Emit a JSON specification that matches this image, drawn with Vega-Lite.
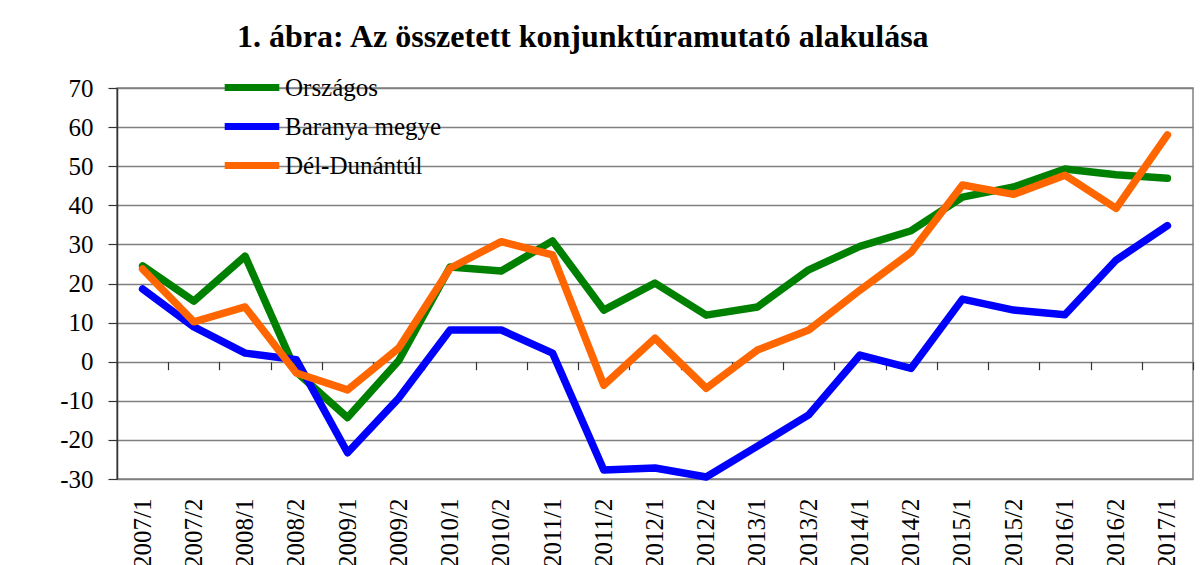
{
  "$schema": "https://vega.github.io/schema/vega-lite/v6.json",
  "width": 1076,
  "height": 391,
  "autosize": {"type": "none"},
  "padding": {"left": 117, "top": 88, "right": 11, "bottom": 86},
  "background": "white",
  "title": {
    "text": "1. ábra: Az összetett konjunktúramutató alakulása",
    "font": "Liberation Serif",
    "fontSize": 32,
    "fontWeight": "bold",
    "color": "black",
    "anchor": "start",
    "frame": "group",
    "dx": 120,
    "offset": 11
  },
  "config": {
    "view": {"stroke": "#808080", "strokeWidth": 1.5},
    "font": "Liberation Serif",
    "axis": {"labelFont": "Liberation Serif"},
    "legend": {"labelFont": "Liberation Serif"}
  },
  "data": {
    "values": [
      {"period": "2007/1", "series": "Országos", "value": 24.5},
      {"period": "2007/2", "series": "Országos", "value": 15.5},
      {"period": "2008/1", "series": "Országos", "value": 27},
      {"period": "2008/2", "series": "Országos", "value": -2.6},
      {"period": "2009/1", "series": "Országos", "value": -14.3},
      {"period": "2009/2", "series": "Országos", "value": 0.3},
      {"period": "2010/1", "series": "Országos", "value": 24.2},
      {"period": "2010/2", "series": "Országos", "value": 23.2},
      {"period": "2011/1", "series": "Országos", "value": 30.9},
      {"period": "2011/2", "series": "Országos", "value": 13.2},
      {"period": "2012/1", "series": "Országos", "value": 20.1},
      {"period": "2012/2", "series": "Országos", "value": 11.9},
      {"period": "2013/1", "series": "Országos", "value": 14},
      {"period": "2013/2", "series": "Országos", "value": 23.5},
      {"period": "2014/1", "series": "Országos", "value": 29.5},
      {"period": "2014/2", "series": "Országos", "value": 33.5},
      {"period": "2015/1", "series": "Országos", "value": 42.1},
      {"period": "2015/2", "series": "Országos", "value": 44.7},
      {"period": "2016/1", "series": "Országos", "value": 49.3},
      {"period": "2016/2", "series": "Országos", "value": 47.8},
      {"period": "2017/1", "series": "Országos", "value": 46.9},
      {"period": "2007/1", "series": "Baranya megye", "value": 18.6},
      {"period": "2007/2", "series": "Baranya megye", "value": 8.9},
      {"period": "2008/1", "series": "Baranya megye", "value": 2.2},
      {"period": "2008/2", "series": "Baranya megye", "value": 0.5},
      {"period": "2009/1", "series": "Baranya megye", "value": -23.3},
      {"period": "2009/2", "series": "Baranya megye", "value": -9.3},
      {"period": "2010/1", "series": "Baranya megye", "value": 8.1},
      {"period": "2010/2", "series": "Baranya megye", "value": 8.1},
      {"period": "2011/1", "series": "Baranya megye", "value": 2.2},
      {"period": "2011/2", "series": "Baranya megye", "value": -27.7},
      {"period": "2012/1", "series": "Baranya megye", "value": -27.2},
      {"period": "2012/2", "series": "Baranya megye", "value": -29.5},
      {"period": "2013/1", "series": "Baranya megye", "value": -21.6},
      {"period": "2013/2", "series": "Baranya megye", "value": -13.6},
      {"period": "2014/1", "series": "Baranya megye", "value": 1.7},
      {"period": "2014/2", "series": "Baranya megye", "value": -1.7},
      {"period": "2015/1", "series": "Baranya megye", "value": 16},
      {"period": "2015/2", "series": "Baranya megye", "value": 13.2},
      {"period": "2016/1", "series": "Baranya megye", "value": 12},
      {"period": "2016/2", "series": "Baranya megye", "value": 26},
      {"period": "2017/1", "series": "Baranya megye", "value": 34.8},
      {"period": "2007/1", "series": "Dél-Dunántúl", "value": 23.7},
      {"period": "2007/2", "series": "Dél-Dunántúl", "value": 10.2},
      {"period": "2008/1", "series": "Dél-Dunántúl", "value": 14},
      {"period": "2008/2", "series": "Dél-Dunántúl", "value": -2.9},
      {"period": "2009/1", "series": "Dél-Dunántúl", "value": -7.2},
      {"period": "2009/2", "series": "Dél-Dunántúl", "value": 3.5},
      {"period": "2010/1", "series": "Dél-Dunántúl", "value": 23.9},
      {"period": "2010/2", "series": "Dél-Dunántúl", "value": 30.7},
      {"period": "2011/1", "series": "Dél-Dunántúl", "value": 27.3},
      {"period": "2011/2", "series": "Dél-Dunántúl", "value": -6},
      {"period": "2012/1", "series": "Dél-Dunántúl", "value": 6},
      {"period": "2012/2", "series": "Dél-Dunántúl", "value": -6.8},
      {"period": "2013/1", "series": "Dél-Dunántúl", "value": 3},
      {"period": "2013/2", "series": "Dél-Dunántúl", "value": 8.1},
      {"period": "2014/1", "series": "Dél-Dunántúl", "value": 18.3},
      {"period": "2014/2", "series": "Dél-Dunántúl", "value": 28},
      {"period": "2015/1", "series": "Dél-Dunántúl", "value": 45.2},
      {"period": "2015/2", "series": "Dél-Dunántúl", "value": 42.8},
      {"period": "2016/1", "series": "Dél-Dunántúl", "value": 47.7},
      {"period": "2016/2", "series": "Dél-Dunántúl", "value": 39.2},
      {"period": "2017/1", "series": "Dél-Dunántúl", "value": 58}
    ]
  },
  "encoding": {
    "y": {
      "field": "value",
      "type": "quantitative",
      "scale": {"domain": [-30, 70], "nice": false, "zero": false},
      "axis": {
        "title": null,
        "values": [-30, -20, -10, 0, 10, 20, 30, 40, 50, 60, 70],
        "labelExpr": "toString(datum.value)",
        "labelOverlap": false,
        "grid": true,
        "gridColor": "#808080",
        "gridWidth": 1.5,
        "domain": true,
        "domainColor": "#333333",
        "domainWidth": 1.5,
        "ticks": true,
        "tickSize": 9,
        "tickColor": "#333333",
        "tickWidth": 1.2,
        "labelFont": "Liberation Serif",
        "labelFontSize": 25,
        "labelColor": "black",
        "labelPadding": 15
      }
    }
  },
  "resolve": {"axis": {"x": "independent"}},
  "layer": [
    {
      "mark": {"type": "line", "strokeWidth": 7.5, "strokeJoin": "round", "strokeCap": "round"},
      "encoding": {
        "x": {
          "field": "period",
          "type": "ordinal",
          "sort": null,
          "bandPosition": 0.5,
          "scale": {"type": "band", "paddingInner": 0, "paddingOuter": 0},
          "axis": {
            "orient": "bottom",
            "title": null,
            "labelAngle": -90,
            "labelFont": "Liberation Serif",
            "labelFontSize": 25,
            "labelColor": "black",
            "labelPadding": 19,
            "ticks": false,
            "domain": false,
            "grid": false,
            "labelOverlap": false
          }
        },
        "color": {
          "field": "series",
          "type": "nominal",
          "sort": ["Országos", "Baranya megye", "Dél-Dunántúl"],
          "scale": {
            "domain": ["Országos", "Baranya megye", "Dél-Dunántúl"],
            "range": ["#008000", "#0000FF", "#FF6600"]
          },
          "legend": {
            "title": null,
            "orient": "none",
            "legendX": 112,
            "legendY": -23.5,
            "padding": 0,
            "rowPadding": 2,
            "symbolType": "M-1.4,0H1.4",
            "symbolSize": 1521,
            "symbolStrokeWidth": 7,
            "labelOffset": 10,
            "labelFont": "Liberation Serif",
            "labelFontSize": 25,
            "labelColor": "black",
            "labelLimit": 400
          }
        }
      }
    },
    {
      "mark": {"type": "point", "opacity": 0},
      "encoding": {
        "x": {
          "field": "period",
          "type": "ordinal",
          "sort": null,
          "bandPosition": 0.5,
          "scale": {"type": "band", "paddingInner": 0, "paddingOuter": 0},
          "axis": {
            "orient": "bottom",
            "offset": -117.3,
            "title": null,
            "labels": false,
            "ticks": true,
            "tickBand": "extent",
            "tickSize": 8,
            "tickColor": "#333333",
            "tickWidth": 1.2,
            "domain": false,
            "grid": false
          }
        }
      }
    }
  ]
}
